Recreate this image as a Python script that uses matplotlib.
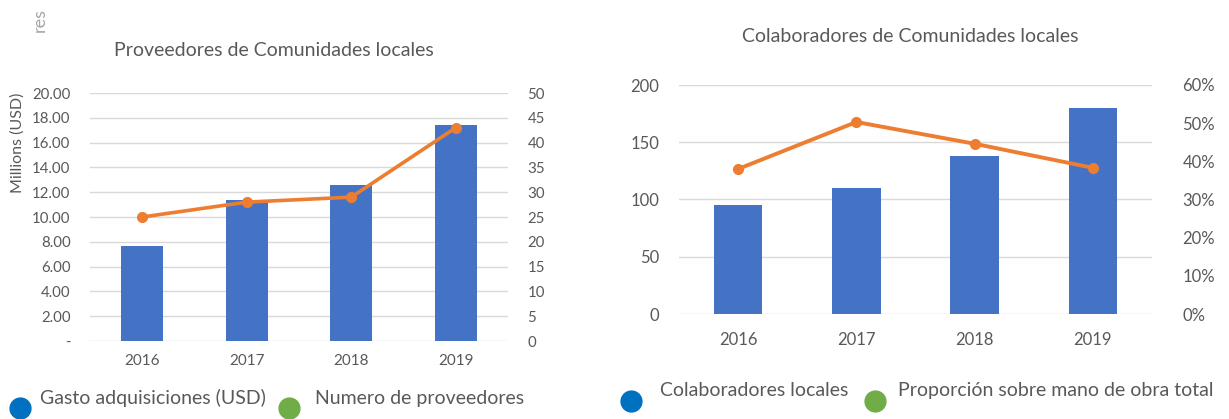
import matplotlib
matplotlib.use('Agg')
import matplotlib.pyplot as plt
from matplotlib.lines import Line2D
from matplotlib.ticker import FuncFormatter, MultipleLocator

plt.rcParams['font.family'] = ['Lato', 'DejaVu Sans']

# data
years = ['2016', '2017', '2018', '2019']
gasto_musd = [7.7, 11.4, 12.6, 17.4]        # Millions USD, bars
num_proveedores = [25, 28, 29, 43]          # line, right axis
colaboradores = [95, 110, 138, 180]         # bars
proporcion = [0.38, 0.503, 0.446, 0.383]    # line, right axis

BLUE = '#4472C4'
ORANGE = '#ED7D31'
GRID = '#D9D9D9'
TXT = '#595959'

fig = plt.figure(figsize=(12.29, 4.19), dpi=100)
W, H = 1229.0, 419.0

def px_axes(x0, y0, x1, y1):
    return fig.add_axes([x0 / W, 1 - y1 / H, (x1 - x0) / W, (y1 - y0) / H])

def style(ax, ax2):
    for a in (ax, ax2):
        for s in a.spines.values():
            s.set_visible(False)
        a.tick_params(length=0, colors=TXT)
    ax.set_xlim(-0.5, 3.5)
    ax.yaxis.grid(True, color=GRID, lw=1)
    ax.set_axisbelow(True)

# ---- left chart
ax = px_axes(90, 93, 508, 341)
ax2 = ax.twinx()
x = range(len(years))
ax.bar(x, gasto_musd, width=0.4, color=BLUE, zorder=2)
ax2.plot(x, num_proveedores, color=ORANGE, lw=2.6, marker='o', ms=7, zorder=3)
style(ax, ax2)
ax.set_ylim(0, 20)
ax.yaxis.set_major_locator(MultipleLocator(2))
ax.yaxis.set_major_formatter(FuncFormatter(lambda v, p: '-' if v == 0 else f'{v:.2f}'))
ax2.set_ylim(0, 50)
ax2.yaxis.set_major_locator(MultipleLocator(5))
ax.set_xticks(list(x))
ax.set_xticklabels(years)
ax.tick_params(axis='y', labelsize=10.8, pad=14)
ax.tick_params(axis='x', labelsize=11, pad=9)
ax2.tick_params(axis='y', labelsize=10.8, pad=14)
ax.set_ylabel('Millions (USD)', color=TXT, fontsize=11.5)
ax.yaxis.set_label_coords(-0.155, 0.8)

# ---- right chart
bx = px_axes(679, 85, 1152, 314)
bx2 = bx.twinx()
bx.bar(x, colaboradores, width=0.41, color=BLUE, zorder=2)
bx2.plot(x, proporcion, color=ORANGE, lw=2.8, marker='o', ms=7, zorder=3)
style(bx, bx2)
bx.set_ylim(0, 200)
bx.yaxis.set_major_locator(MultipleLocator(50))
bx2.set_ylim(0, 0.6)
bx2.yaxis.set_major_locator(MultipleLocator(0.1))
bx2.yaxis.set_major_formatter(FuncFormatter(lambda v, p: f'{v * 100:.0f}%'))
bx.set_xticks(list(x))
bx.set_xticklabels(years)
bx.tick_params(axis='y', labelsize=12, pad=14)
bx.tick_params(axis='x', labelsize=12, pad=13)
bx2.tick_params(axis='y', labelsize=12, pad=22)

# titles
fig.text(274 / W, 1 - 50 / H, 'Proveedores de Comunidades locales', ha='center', va='center',
         fontsize=14, color=TXT)
fig.text(910 / W, 1 - 36 / H, 'Colaboradores de Comunidades locales', ha='center', va='center',
         fontsize=14, color=TXT)
fig.text(40 / W, 1 - 20 / H, 'res', rotation=90, ha='center', va='center', fontsize=13, color='#A6A6A6')

# legends (circles + labels)
def legend_item(cx, cy, color, tx, ty, label):
    fig.add_artist(Line2D([cx / W], [1 - cy / H], marker='o', ms=15, color=color, ls='none',
                          transform=fig.transFigure))
    fig.text(tx / W, 1 - ty / H, label, ha='left', va='center', fontsize=14, color=TXT)

legend_item(20, 408, '#0070C0', 40, 398, 'Gasto adquisiciones (USD)')
legend_item(289, 408, '#70AD47', 315, 398, 'Numero de proveedores')
legend_item(631, 401, '#0070C0', 660, 390, 'Colaboradores locales')
legend_item(875, 401, '#70AD47', 898, 390, 'Proporción sobre mano de obra total')

fig.savefig('out.png', dpi=100)
